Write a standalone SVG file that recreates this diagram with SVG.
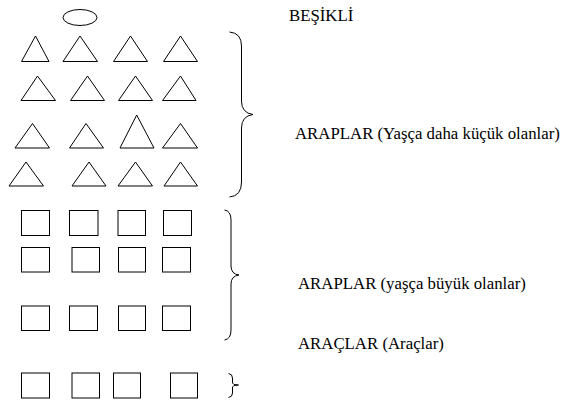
<svg xmlns="http://www.w3.org/2000/svg" width="570" height="400" viewBox="0 0 570 400">
<style>
.s{fill:#fff;stroke:#000;stroke-width:1}
.b{fill:none;stroke:#000;stroke-width:1}
</style>
<rect width="570" height="400" fill="#fff"/>
<g id="besik"><ellipse class="s" cx="80" cy="17.5" rx="17" ry="8"/></g>
<g id="triangles">
<polygon class="s" points="21.5,61.5 49,61.5 35.5,36"/>
<polygon class="s" points="63,61.5 97.5,61.5 80,36"/>
<polygon class="s" points="113.5,61.5 147.5,61.5 130.5,36"/>
<polygon class="s" points="163.5,61.5 197.5,61.5 180.5,36"/>
<polygon class="s" points="21,100.5 55.5,100.5 37.5,76"/>
<polygon class="s" points="70.5,100.5 104.5,100.5 87.5,76"/>
<polygon class="s" points="118.5,100.5 152.5,100.5 135.5,76"/>
<polygon class="s" points="162.5,100.5 196,100.5 180.5,76"/>
<polygon class="s" points="15,148 49.5,148 32.5,123.5"/>
<polygon class="s" points="69.5,148 103.5,148 86,123.5"/>
<polygon class="s" points="120,148 154,148 136.7,115"/>
<polygon class="s" points="162.5,148 197.5,148 180.5,123.5"/>
<polygon class="s" points="9,186 43.5,186 26,162"/>
<polygon class="s" points="72,186 106,186 89,162"/>
<polygon class="s" points="118,186 152.5,186 135.5,162"/>
<polygon class="s" points="164,186 197.5,186 180.5,162"/>
</g>
<g id="squares">
<rect class="s" x="21.5" y="210.5" width="28" height="25"/>
<rect class="s" x="69.5" y="210.5" width="28.5" height="25"/>
<rect class="s" x="118" y="210.5" width="27.5" height="25"/>
<rect class="s" x="163.5" y="210.5" width="28" height="25"/>
<rect class="s" x="21.5" y="247.5" width="28" height="24.5"/>
<rect class="s" x="72" y="247.5" width="27.5" height="24.5"/>
<rect class="s" x="118.5" y="247.5" width="27" height="24.5"/>
<rect class="s" x="162.5" y="247.5" width="28" height="24.5"/>
<rect class="s" x="21.5" y="306" width="28" height="24.5"/>
<rect class="s" x="69.5" y="306" width="28" height="24.5"/>
<rect class="s" x="118.5" y="306" width="27" height="24.5"/>
<rect class="s" x="162.5" y="306" width="28" height="24.5"/>
<rect class="s" x="21.5" y="373" width="28" height="25"/>
<rect class="s" x="72" y="373" width="27.5" height="25"/>
<rect class="s" x="113.5" y="373" width="27" height="25"/>
<rect class="s" x="170.5" y="373" width="27" height="25"/>
</g>
<g id="braces">
<path class="b" d="M229.5,32 Q241.5,33 241.5,46 L241.5,101 Q241.5,113 253,114.5 Q241.5,116 241.5,128 L241.5,182 Q241.5,196 229.5,197"/>
<path class="b" d="M224.5,210 Q231,211 231,220 L231,266 Q231,274 239,275 Q231,276 231,284 L231,330 Q231,339 224.5,340"/>
<path class="b" d="M228.5,373.5 Q232.5,374 232.5,378 L232.5,383 Q232.5,385 238.5,385 Q232.5,385 232.5,387 L232.5,393 Q232.5,397 228.5,397.5"/>
</g>
<g id="labels" font-family="'Liberation Serif', Times, serif" font-size="16.8" fill="#000">
<text x="289" y="21">BEŞİKLİ</text>
<text x="295" y="139">ARAPLAR (Yaşça daha küçük olanlar)</text>
<text x="298" y="288.5">ARAPLAR (yaşça büyük olanlar)</text>
<text x="298" y="349">ARAÇLAR (Araçlar)</text>
</g>
</svg>
